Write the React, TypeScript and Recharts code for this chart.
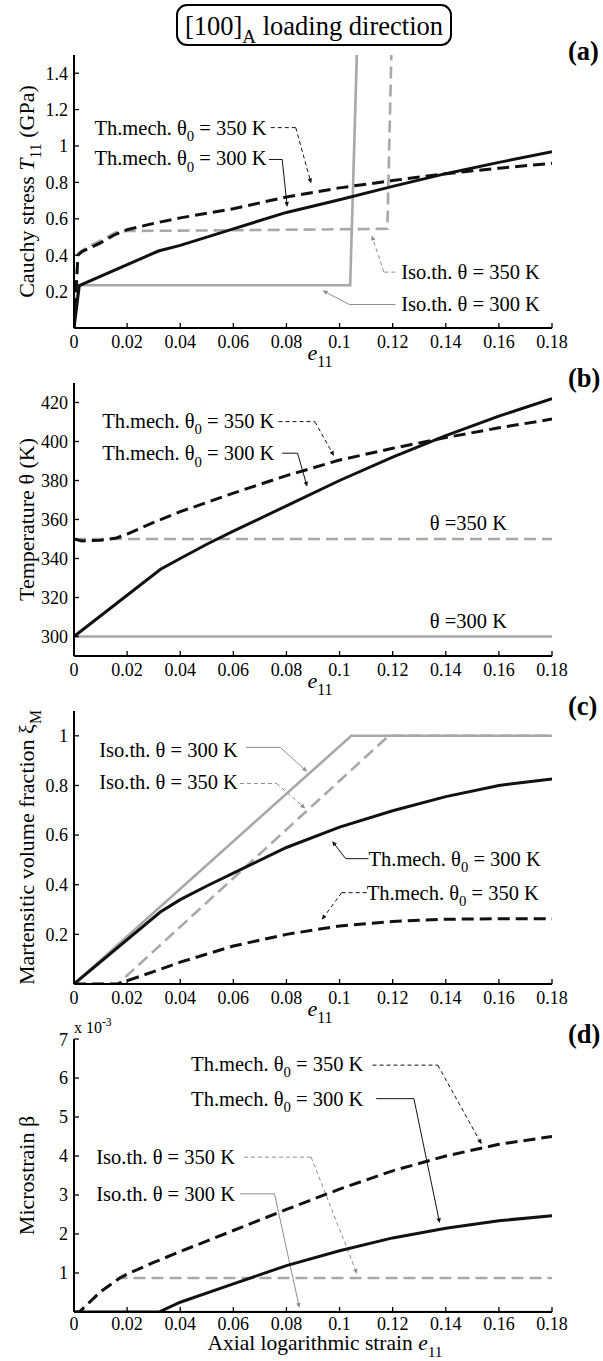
import React from 'react';
import { LineChart, Line, XAxis, YAxis, ReferenceLine, ReferenceDot } from 'recharts';

type Pt = { x: number; y: number };
type Part = { t: string; sub?: boolean; sup?: boolean; it?: boolean };

const FONT = '"Liberation Serif", "Times New Roman", Times, serif';
const BLACK = '#111111';
const GRAY = '#a8a8a8';

// shared strain axis
const strainTicks = [0, 0.02, 0.04, 0.06, 0.08, 0.1, 0.12, 0.14, 0.16, 0.18];

// (a) Cauchy stress T11 (GPa)
const stressTicks = [0.2, 0.4, 0.6, 0.8, 1, 1.2, 1.4];
const stressIso300: Pt[] = [
  { x: 0, y: 0 }, { x: 0.0015, y: 0.235 }, { x: 0.104, y: 0.235 }, { x: 0.1065, y: 1.5 },
];
const stressIso350: Pt[] = [
  { x: 0, y: 0 }, { x: 0.0015, y: 0.41 }, { x: 0.005, y: 0.445 }, { x: 0.01, y: 0.48 },
  { x: 0.016, y: 0.527 }, { x: 0.02, y: 0.533 }, { x: 0.06, y: 0.537 }, { x: 0.118, y: 0.545 },
  { x: 0.1195, y: 1.5 },
];
const stressTm300: Pt[] = [
  { x: 0, y: 0 }, { x: 0.002, y: 0.233 }, { x: 0.0318, y: 0.423 }, { x: 0.04, y: 0.454 },
  { x: 0.06, y: 0.545 }, { x: 0.08, y: 0.635 }, { x: 0.1, y: 0.705 }, { x: 0.12, y: 0.778 },
  { x: 0.14, y: 0.848 }, { x: 0.16, y: 0.91 }, { x: 0.18, y: 0.968 },
];
const stressTm350: Pt[] = [
  { x: 0, y: 0 }, { x: 0.0015, y: 0.4 }, { x: 0.003, y: 0.42 }, { x: 0.006, y: 0.44 },
  { x: 0.01, y: 0.468 }, { x: 0.015, y: 0.51 }, { x: 0.02, y: 0.54 }, { x: 0.03, y: 0.575 },
  { x: 0.04, y: 0.605 }, { x: 0.06, y: 0.655 }, { x: 0.08, y: 0.72 }, { x: 0.1, y: 0.77 },
  { x: 0.12, y: 0.81 }, { x: 0.14, y: 0.848 }, { x: 0.16, y: 0.878 }, { x: 0.18, y: 0.905 },
];

// (b) temperature (K)
const tempTicks = [300, 320, 340, 360, 380, 400, 420];
const tempIso300: Pt[] = [{ x: 0, y: 300 }, { x: 0.18, y: 300 }];
const tempIso350: Pt[] = [{ x: 0, y: 350 }, { x: 0.18, y: 350 }];
const tempTm300: Pt[] = [
  { x: 0, y: 300 }, { x: 0.0326, y: 334.5 }, { x: 0.04, y: 340 }, { x: 0.05, y: 347.3 },
  { x: 0.06, y: 354 }, { x: 0.08, y: 367 }, { x: 0.1, y: 380 }, { x: 0.12, y: 392 },
  { x: 0.14, y: 403 }, { x: 0.16, y: 413 }, { x: 0.18, y: 422 },
];
const tempTm350: Pt[] = [
  { x: 0, y: 350 }, { x: 0.003, y: 349 }, { x: 0.01, y: 349.4 }, { x: 0.016, y: 350.5 },
  { x: 0.02, y: 352.5 }, { x: 0.03, y: 358.5 }, { x: 0.04, y: 364 }, { x: 0.06, y: 373.5 },
  { x: 0.08, y: 382.5 }, { x: 0.1, y: 390.5 }, { x: 0.12, y: 396.5 }, { x: 0.14, y: 402 },
  { x: 0.16, y: 407 }, { x: 0.18, y: 411.5 },
];

// (c) martensitic volume fraction
const fracTicks = [0.2, 0.4, 0.6, 0.8, 1];
const fracIso300: Pt[] = [{ x: 0, y: 0 }, { x: 0.1044, y: 1 }, { x: 0.18, y: 1 }];
const fracIso350: Pt[] = [{ x: 0, y: 0 }, { x: 0.0165, y: 0 }, { x: 0.1185, y: 1 }, { x: 0.18, y: 1 }];
const fracTm300: Pt[] = [
  { x: 0, y: 0 }, { x: 0.0325, y: 0.29 }, { x: 0.04, y: 0.34 }, { x: 0.05, y: 0.395 },
  { x: 0.06, y: 0.447 }, { x: 0.08, y: 0.55 }, { x: 0.1, y: 0.632 }, { x: 0.12, y: 0.698 },
  { x: 0.14, y: 0.755 }, { x: 0.16, y: 0.8 }, { x: 0.18, y: 0.826 },
];
const fracTm350: Pt[] = [
  { x: 0, y: 0 }, { x: 0.0165, y: 0 }, { x: 0.02, y: 0.013 }, { x: 0.03, y: 0.05 },
  { x: 0.04, y: 0.088 }, { x: 0.06, y: 0.153 }, { x: 0.08, y: 0.2 }, { x: 0.1, y: 0.234 },
  { x: 0.12, y: 0.252 }, { x: 0.14, y: 0.261 }, { x: 0.16, y: 0.263 }, { x: 0.18, y: 0.263 },
];

// (d) microstrain beta, in units of 1e-3
const betaTicks = [1, 2, 3, 4, 5, 6, 7];
const betaIso300: Pt[] = [{ x: 0, y: 0 }, { x: 0.18, y: 0 }];
const betaIso350: Pt[] = [
  { x: 0, y: 0 }, { x: 0.002, y: 0 }, { x: 0.01, y: 0.52 }, { x: 0.0172, y: 0.87 }, { x: 0.18, y: 0.87 },
];
const betaTm300: Pt[] = [
  { x: 0, y: 0 }, { x: 0.032, y: 0 }, { x: 0.04, y: 0.25 }, { x: 0.06, y: 0.72 },
  { x: 0.08, y: 1.19 }, { x: 0.1, y: 1.57 }, { x: 0.12, y: 1.9 }, { x: 0.14, y: 2.15 },
  { x: 0.16, y: 2.34 }, { x: 0.18, y: 2.47 },
];
const betaTm350: Pt[] = [
  { x: 0, y: 0 }, { x: 0.002, y: 0 }, { x: 0.01, y: 0.52 }, { x: 0.0172, y: 0.87 },
  { x: 0.02, y: 0.97 }, { x: 0.03, y: 1.27 }, { x: 0.04, y: 1.55 }, { x: 0.06, y: 2.09 },
  { x: 0.08, y: 2.63 }, { x: 0.1, y: 3.15 }, { x: 0.12, y: 3.62 }, { x: 0.14, y: 4.0 },
  { x: 0.16, y: 4.3 }, { x: 0.18, y: 4.5 },
];

const TM350: Part[] = [{ t: 'Th.mech. θ' }, { t: '0', sub: true }, { t: ' = 350 K' }];
const TM300: Part[] = [{ t: 'Th.mech. θ' }, { t: '0', sub: true }, { t: ' = 300 K' }];
const ISO350: Part[] = [{ t: 'Iso.th. θ = 350 K' }];
const ISO300: Part[] = [{ t: 'Iso.th. θ = 300 K' }];
const E11: Part[] = [{ t: 'e', it: true }, { t: '11', sub: true }];

type SeriesDef = { data: Pt[]; gray: boolean; dashed: boolean };
type NoteDef = { at: Pt; parts: Part[] };
type LeaderDef = { pts: Pt[]; gray: boolean; dashed: boolean };

function Rich({ x, y, parts, size, anchor = 'start', rotate = false, weight = 'normal' }: {
  x: number; y: number; parts: Part[]; size: number; anchor?: string; rotate?: boolean; weight?: string;
}) {
  let shift = 0;
  return (
    <text
      x={x} y={y} fontFamily={FONT} fontSize={size} fontWeight={weight} textAnchor={anchor} fill="#000"
      transform={rotate ? `rotate(-90 ${x} ${y})` : undefined}
    >
      {parts.map((p, i) => {
        const target = p.sub ? size * 0.32 : p.sup ? -size * 0.42 : 0;
        const dy = target - shift;
        shift = target;
        return (
          <tspan key={i} dy={dy} fontSize={p.sub || p.sup ? size * 0.72 : size} fontStyle={p.it ? 'italic' : 'normal'}>
            {p.t}
          </tspan>
        );
      })}
    </text>
  );
}

const arrowShape = (props: any) => {
  const { x1, y1, x2, y2, stroke, strokeDasharray } = props;
  const a = Math.atan2(y2 - y1, x2 - x1);
  const L = 5, W = 2.2;
  const bx = x2 - L * Math.cos(a), by = y2 - L * Math.sin(a);
  const px = -Math.sin(a) * W, py = Math.cos(a) * W;
  return (
    <g>
      <line x1={x1} y1={y1} x2={bx} y2={by} stroke={stroke} strokeWidth={1} strokeDasharray={strokeDasharray} />
      <polygon points={`${x2},${y2} ${bx + px},${by + py} ${bx - px},${by - py}`} fill={stroke} />
    </g>
  );
};

type PanelProps = {
  top: number; domain: [number, number]; ticks: number[];
  series: SeriesDef[]; notes: NoteDef[]; leaders: LeaderDef[];
  yTitle: Part[]; xTitle: Part[]; xTitleDy?: number; xTitleDx?: number; xTickMargin?: number; xTitleSize?: number;
};

const H = 273;
const axisStyle = { stroke: '#000', strokeWidth: 2 };
const tickLineStyle = { stroke: '#000', strokeWidth: 1.3 };
const tickFont = { fontSize: 18, fill: '#000', fontFamily: FONT };

function Panel({
  top, domain, ticks, series, notes, leaders, yTitle, xTitle,
  xTitleDy = 32, xTitleDx = 7, xTickMargin = 12, xTitleSize = 22,
}: PanelProps) {
  return (
    <div style={{ position: 'absolute', left: 0, top: top - 10 }}>
      <LineChart width={603} height={H + 10 + 60} margin={{ top: 10, right: 51, bottom: 0, left: 0 }}>
        <XAxis
          xAxisId="b" type="number" dataKey="x" domain={[0, 0.18]} ticks={strainTicks} allowDataOverflow
          height={60} tickSize={-5} tickMargin={xTickMargin} tick={tickFont} axisLine={axisStyle} tickLine={tickLineStyle}
          label={(p: any) => (
            <Rich x={p.viewBox.x + p.viewBox.width / 2 + xTitleDx} y={p.viewBox.y + xTitleDy} parts={xTitle} size={xTitleSize} anchor="middle" />
          )}
        />
        <XAxis
          xAxisId="t" orientation="top" type="number" dataKey="x" domain={[0, 0.18]} ticks={strainTicks}
          allowDataOverflow height={0} tickSize={-5} tick={false} axisLine={axisStyle} tickLine={tickLineStyle}
        />
        <YAxis
          yAxisId="l" type="number" domain={domain} ticks={ticks} allowDataOverflow width={74}
          tickSize={-5} tickMargin={11} tick={tickFont} axisLine={axisStyle} tickLine={tickLineStyle}
          label={(p: any) => (
            <Rich x={34} y={p.viewBox.y + p.viewBox.height / 2} parts={yTitle} size={22} anchor="middle" rotate />
          )}
        />
        <YAxis
          yAxisId="r" orientation="right" type="number" domain={domain} ticks={ticks} allowDataOverflow
          width={0} tickSize={-5} tick={false} axisLine={axisStyle} tickLine={tickLineStyle}
        />
        {leaders.map((ld, i) =>
          ld.pts.slice(1).map((p, j) => (
            <ReferenceLine
              key={`ld${i}-${j}`} xAxisId="b" yAxisId="l"
              segment={[ld.pts[j], p]}
              stroke={ld.gray ? '#8c8c8c' : BLACK} strokeWidth={1}
              strokeDasharray={ld.dashed ? '4 3' : undefined}
              shape={j === ld.pts.length - 2 ? arrowShape : undefined}
            />
          ))
        )}
        {series.map((s, i) => (
          <Line
            key={`s${i}`} xAxisId="b" yAxisId="l" data={s.data} dataKey="y" type="linear"
            stroke={s.gray ? GRAY : BLACK} strokeWidth={s.gray ? 2.6 : 3}
            strokeDasharray={s.dashed ? '12 6' : undefined} dot={false} activeDot={false}
            isAnimationActive={false}
          />
        ))}
        {notes.map((n, i) => (
          <ReferenceDot
            key={`n${i}`} xAxisId="b" yAxisId="l" x={n.at.x} y={n.at.y} r={0} fill="none" stroke="none"
            label={(p: any) => <Rich x={p.viewBox.x} y={p.viewBox.y + 7} parts={n.parts} size={20.5} />}
          />
        ))}
      </LineChart>
    </div>
  );
}

const g = (data: Pt[], dashed: boolean): SeriesDef => ({ data, gray: true, dashed });
const k = (data: Pt[], dashed: boolean): SeriesDef => ({ data, gray: false, dashed });

export default function App() {
  return (
    <div style={{ position: 'absolute', left: 0, top: 0, width: 603, height: 1361, background: '#fff', overflow: 'hidden' }}>
      <Panel
        top={55} domain={[0, 1.5]} ticks={stressTicks}
        series={[g(stressIso300, false), g(stressIso350, true), k(stressTm300, false), k(stressTm350, true)]}
        yTitle={[{ t: 'Cauchy stress  ' }, { t: 'T', it: true }, { t: '11', sub: true }, { t: ' (GPa)' }]}
        xTitle={E11}
        notes={[
          { at: { x: 0.0077, y: 1.101 }, parts: TM350 },
          { at: { x: 0.0077, y: 0.932 }, parts: TM300 },
          { at: { x: 0.1232, y: 0.307 }, parts: ISO350 },
          { at: { x: 0.1232, y: 0.132 }, parts: ISO300 },
        ]}
        leaders={[
          { pts: [{ x: 0.0741, y: 1.101 }, { x: 0.0835, y: 1.101 }, { x: 0.0893, y: 0.794 }], gray: false, dashed: true },
          { pts: [{ x: 0.0734, y: 0.926 }, { x: 0.0784, y: 0.926 }, { x: 0.0803, y: 0.665 }], gray: false, dashed: false },
          { pts: [{ x: 0.121, y: 0.307 }, { x: 0.1167, y: 0.307 }, { x: 0.1121, y: 0.509 }], gray: true, dashed: true },
          { pts: [{ x: 0.121, y: 0.129 }, { x: 0.1037, y: 0.129 }, { x: 0.0936, y: 0.206 }], gray: true, dashed: false },
        ]}
      />
      <Panel
        top={383} domain={[290, 430]} ticks={tempTicks}
        series={[g(tempIso300, false), g(tempIso350, true), k(tempTm300, false), k(tempTm350, true)]}
        yTitle={[{ t: 'Temperature θ (K)' }]}
        xTitle={E11}
        notes={[
          { at: { x: 0.0106, y: 410.7 }, parts: TM350 },
          { at: { x: 0.0106, y: 394 }, parts: TM300 },
          { at: { x: 0.134, y: 358.3 }, parts: [{ t: 'θ =350 K' }] },
          { at: { x: 0.134, y: 308.2 }, parts: [{ t: 'θ =300 K' }] },
        ]}
        leaders={[
          { pts: [{ x: 0.077, y: 410.2 }, { x: 0.0907, y: 410.2 }, { x: 0.0979, y: 392.6 }], gray: false, dashed: true },
          { pts: [{ x: 0.0784, y: 394 }, { x: 0.0842, y: 394 }, { x: 0.0878, y: 376.8 }], gray: false, dashed: false },
        ]}
      />
      <Panel
        top={711} domain={[0, 1.1]} ticks={fracTicks}
        series={[g(fracIso300, false), g(fracIso350, true), k(fracTm300, false), k(fracTm350, true)]}
        yTitle={[{ t: 'Martensitic volume fraction ξ' }, { t: 'M', sub: true }]}
        xTitle={E11}
        notes={[
          { at: { x: 0.0095, y: 0.943 }, parts: ISO300 },
          { at: { x: 0.0095, y: 0.812 }, parts: ISO350 },
          { at: { x: 0.1109, y: 0.505 }, parts: TM300 },
          { at: { x: 0.1102, y: 0.368 }, parts: TM350 },
        ]}
        leaders={[
          { pts: [{ x: 0.0647, y: 0.9535 }, { x: 0.0777, y: 0.9535 }, { x: 0.0878, y: 0.855 }], gray: true, dashed: false },
          { pts: [{ x: 0.0625, y: 0.808 }, { x: 0.0763, y: 0.808 }, { x: 0.0871, y: 0.707 }], gray: true, dashed: true },
          { pts: [{ x: 0.1109, y: 0.505 }, { x: 0.1023, y: 0.505 }, { x: 0.0972, y: 0.576 }], gray: false, dashed: false },
          { pts: [{ x: 0.1102, y: 0.368 }, { x: 0.1008, y: 0.368 }, { x: 0.0933, y: 0.2586 }], gray: false, dashed: true },
        ]}
      />
      <Panel
        top={1039} domain={[0, 7]} ticks={betaTicks}
        series={[g(betaIso300, false), g(betaIso350, true), k(betaTm300, false), k(betaTm350, true)]}
        yTitle={[{ t: 'Microstrain β' }]}
        xTitle={[{ t: 'Axial logarithmic strain ' }, { t: 'e', it: true }, { t: '11', sub: true }]}
        xTitleDy={38} xTitleDx={12} xTickMargin={10} xTitleSize={21.5}
        notes={[
          { at: { x: 0.0441, y: 6.37 }, parts: TM350 },
          { at: { x: 0.0441, y: 5.47 }, parts: TM300 },
          { at: { x: 0.0084, y: 3.97 }, parts: ISO350 },
          { at: { x: 0.0084, y: 3.03 }, parts: ISO300 },
        ]}
        leaders={[
          { pts: [{ x: 0.1124, y: 6.33 }, { x: 0.137, y: 6.33 }, { x: 0.1535, y: 4.3 }], gray: false, dashed: true },
          { pts: [{ x: 0.1138, y: 5.47 }, { x: 0.128, y: 5.47 }, { x: 0.1377, y: 2.28 }], gray: false, dashed: false },
          { pts: [{ x: 0.064, y: 3.97 }, { x: 0.0893, y: 3.97 }, { x: 0.1066, y: 0.976 }], gray: true, dashed: true },
          { pts: [{ x: 0.0626, y: 3.03 }, { x: 0.0755, y: 3.03 }, { x: 0.0849, y: 0.103 }], gray: true, dashed: false },
        ]}
      />
      <svg width={603} height={1361} style={{ position: 'absolute', left: 0, top: 0, pointerEvents: 'none' }}>
        <rect x={177} y={5} width={274} height={40} rx={10} ry={10} fill="#fff" stroke="#000" strokeWidth={2} />
        <Rich x={314} y={35} parts={[{ t: '[100]' }, { t: 'A', sub: true }, { t: ' loading direction' }]} size={26.5} anchor="middle" />
        <Rich x={568} y={60} parts={[{ t: '(a)' }]} size={26.5} weight="bold" />
        <Rich x={568} y={387} parts={[{ t: '(b)' }]} size={26.5} weight="bold" />
        <Rich x={568} y={715} parts={[{ t: '(c)' }]} size={26.5} weight="bold" />
        <Rich x={568} y={1043} parts={[{ t: '(d)' }]} size={26.5} weight="bold" />
        <Rich x={74} y={1033} parts={[{ t: 'x 10' }, { t: '-3', sup: true }]} size={16} />
      </svg>
    </div>
  );
}
